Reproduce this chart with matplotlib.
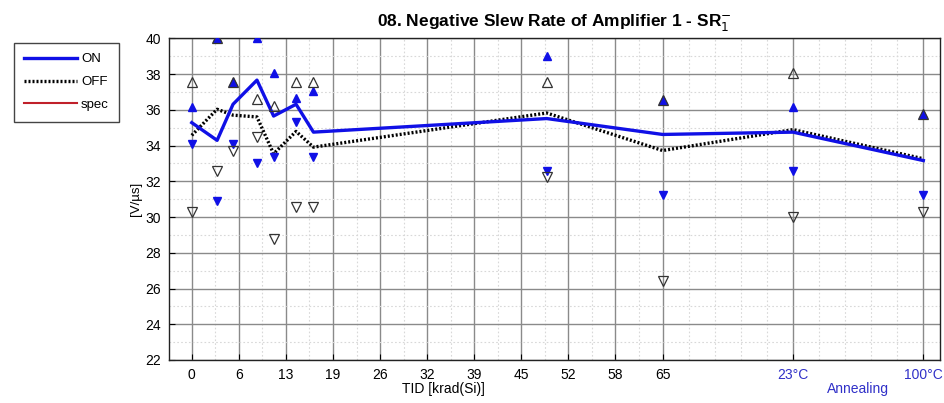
import matplotlib
matplotlib.use("Agg")
import matplotlib.pyplot as plt
import matplotlib.transforms as mtransforms

plt.rcParams['font.family'] = ['Liberation Sans', 'DejaVu Sans']

# TID steps (annealing points placed after the 65 krad step)
tid = [0, 3.5, 5.7, 9.0, 11.3, 14.4, 16.8, 49, 65, 83, 101]

# mean curves
on_mean = [35.28, 34.29, 36.31, 37.66, 35.65, 36.31, 34.75, 35.51, 34.62, 34.75, 33.16]
off_mean = [34.57, 36.03, 35.70, 35.60, 33.54, 34.79, 33.91, 35.82, 33.72, 34.89, 33.26]

# max / min of each group
on_max = [36.16, 40.0, 37.53, 40.0, 38.07, 36.66, 37.06, 39.02, 36.57, 36.16, 35.75]
on_min = [34.10, 30.90, 34.06, 33.03, 33.35, 35.32, 33.35, 32.60, 31.25, 32.56, 31.25]
off_max = [37.56, 40.0, 37.53, 36.63, 36.20, 37.56, 37.56, 37.56, 36.57, 38.07, 35.75]
off_min = [30.30, 32.56, 33.69, 34.47, 28.76, 30.58, 30.58, 32.22, 26.42, 29.98, 30.30]

xticks = [0, 6.5, 13, 19.5, 26, 32.5, 39, 45.5, 52, 58.5, 65, 83, 101]
xticklabels = ['0', '6', '13', '19', '26', '32', '39', '45', '52', '58', '65', '23°C', '100°C']
xminor = [3.25, 9.75, 16.25, 22.75, 29.25, 35.75, 42.25, 48.75, 55.25, 61.75,
          68.6, 72.2, 75.8, 79.4, 86.6, 90.2, 93.8, 97.4]
yticks = list(range(22, 41, 2))
yminor = list(range(23, 40, 2))

blue = '#1010e6'
anneal_blue = '#3030c8'

fig = plt.figure(figsize=(9.44, 4.03), dpi=100)
ax = fig.add_axes([169.3 / 944, 1 - 360 / 403, (940 - 169.3) / 944, (360 - 38.3) / 403])

ax.plot(tid, on_mean, color=blue, lw=2.4, label='ON', zorder=4)
ax.plot(tid, off_mean, color='black', lw=2.4, ls=(0, (0.6, 0.6)), label='OFF', zorder=3)
ax.plot([], [], color='#c0202a', lw=1.5, label='spec')

ax.plot(tid, on_max, ls='none', marker='^', ms=5.5, color=blue, mec=blue, zorder=5)
ax.plot(tid, on_min, ls='none', marker='v', ms=5.5, color=blue, mec=blue, zorder=5)
ax.plot(tid, off_max, ls='none', marker='^', ms=6.5, mfc='none', mec='#333333', mew=0.9, zorder=6)
ax.plot(tid, off_min, ls='none', marker='v', ms=6.5, mfc='none', mec='#333333', mew=0.9, zorder=6)

ax.set_xlim(-3.1, 103.3)
ax.set_ylim(22, 40)
ax.set_xticks(xticks)
ax.set_xticklabels(xticklabels)
ax.set_xticks(xminor, minor=True)
ax.set_yticks(yticks)
ax.set_yticks(yminor, minor=True)
for lbl in ax.get_xticklabels()[-2:]:
    lbl.set_color(anneal_blue)

ax.tick_params(axis='both', which='major', direction='in', length=4, labelsize=10,
               top=False, right=False, pad=6)
ax.tick_params(axis='both', which='minor', length=0)
ax.grid(which='major', color='#8a8a8a', lw=1.0, ls='-')
ax.grid(which='minor', color='#d8d8d8', lw=0.8, ls=(0, (1.5, 2)))
ax.set_axisbelow(True)
for s in ax.spines.values():
    s.set_linewidth(1.0)
    s.set_color('#222222')

ax.set_ylabel('[V/µs]', fontsize=9.5, labelpad=2)
ax.set_title('08. Negative Slew Rate of Amplifier 1 - SR$_1^{-}$', fontsize=12.5,
             fontweight='bold', pad=9)

trans = mtransforms.blended_transform_factory(ax.transData, fig.transFigure)
ax.text(34.7, 1 - 389 / 403, 'TID [krad(Si)]', transform=trans, ha='center', va='center',
        fontsize=10)
ax.text(92, 1 - 389 / 403, 'Annealing', transform=trans, ha='center', va='center',
        fontsize=10, color=anneal_blue)

fig.legend(loc='upper left', bbox_to_anchor=(7 / 944, 1 - 36 / 403), fontsize=9.5,
           handlelength=4.0, labelspacing=0.8, fancybox=False, framealpha=1,
           edgecolor='#444444', borderpad=0.8, handletextpad=0.3)

fig.savefig('out.png', dpi=100)
